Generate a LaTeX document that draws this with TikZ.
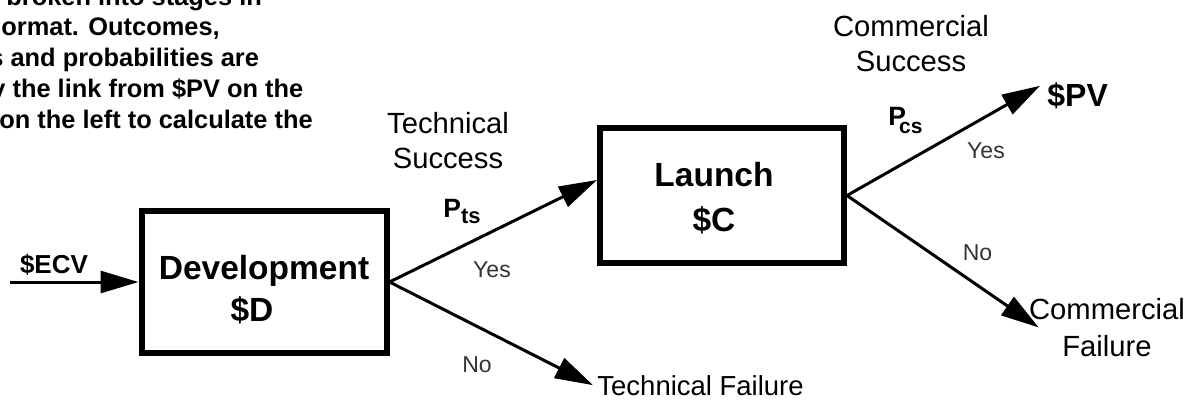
\documentclass[tikz,border=0pt]{standalone}
\usepackage{fontspec}
\setmainfont{Liberation Sans}
\usetikzlibrary{arrows.meta}
\begin{document}
\begin{tikzpicture}[x=0.5pt,y=-0.5pt,
  stage/.style={draw, line width=3pt, minimum width=122.5pt, minimum height=70.75pt, inner sep=0pt},
  stagetext/.style={font=\fontsize{16.75}{21}\selectfont\bfseries, align=center, inner sep=0pt},
  flow/.style={line width=1.5pt, -{Triangle[length=19pt,width=11pt]}},
  branch/.style={font=\fontsize{14.6}{17.5}\selectfont, align=center, inner sep=0pt},
  answer/.style={font=\fontsize{11.5}{13}\selectfont, text=black!80, inner sep=0pt, anchor=base},
  prob/.style={font=\fontsize{13.25}{15}\selectfont\bfseries, inner sep=0pt, anchor=base west},
  note/.style={font=\fontsize{12.7}{15.5}\selectfont\bfseries, inner sep=0pt, anchor=base west},
  subfont/.style={},
]
\useasboundingbox (0,0) rectangle (1201,403);

% explanatory note, cut off by the left and top edges
\begin{scope}
  \clip (0,0) rectangle (1201,403);
  \node[note] (n1) at (6,5)    {broken into stages in};
  \node[note] (n2) at (1,35)   {ormat. Outcomes,};
  \node[note] (n3) at (-11,66) {s and probabilities are};
  \node[note] (n4) at (-9,97)  {y the link from \$PV on the};
  \node[note] (n5) at (-1,128) {on the left to calculate the};
\end{scope}

% stages
\node[stage, label={[stagetext, yshift=-3.75pt]center:Development\\\$D\kern12pt}] (dev) at (264,282) {};
\node[stage, minimum width=122pt, minimum height=67.5pt,
      label={[stagetext, font=\fontsize{16.75}{22.5}\selectfont\bfseries, xshift=-4pt, yshift=-1.5pt]center:Launch\\\$C}] (launch) at (722,195.5) {};

% input value
\coordinate (ecvin) at (10,282);
\node[inner sep=0pt, font=\fontsize{13}{15}\selectfont\bfseries, anchor=base] (ecv) at (54,273) {\$ECV};

% branch labels
\node[branch] (tslabel) at (448,140.5) {Technical\\Success};
\node[branch] (cslabel) at (911,43.5) {Commercial\\Success};
\node[prob] (pts) at (443,217) {P\raisebox{-3pt}{\fontsize{11}{11}\selectfont ts}};
\node[prob] (pcs) at (888,125) {P\kern-3.5pt\raisebox{-4pt}{\fontsize{10.5}{10.5}\selectfont cs}};
\node[answer] (tsyes) at (492,277) {Yes};
\node[answer] (tsno) at (477,372) {No};
\node[answer] (csyes) at (986,158) {Yes};
\node[answer] (csno) at (977.5,260) {No};

% outcomes
\node[inner sep=0pt, font=\fontsize{13.75}{16}\selectfont, anchor=base west] (tf) at (597,395) {Technical Failure};
\node[inner sep=0pt, font=\fontsize{16}{18}\selectfont\bfseries, anchor=base west] (pv) at (1047,106) {\$PV};
\node[branch, font=\fontsize{14.6}{18.5}\selectfont] (cf) at (1107,327.5) {Commercial\\Failure};

% connectors
\draw[flow] (ecvin) -- (dev.west);
\draw[flow] (dev.east) -- ([yshift=7.75pt]launch.west);
\draw[flow] (dev.east) -- ([xshift=-2pt]tf.west);
\draw[flow] (launch.east) -- ([xshift=-3.5pt,yshift=4.75pt]pv.west);
\draw[flow] (launch.east) -- ([xshift=5pt]cf.west);
\end{tikzpicture}
\end{document}
